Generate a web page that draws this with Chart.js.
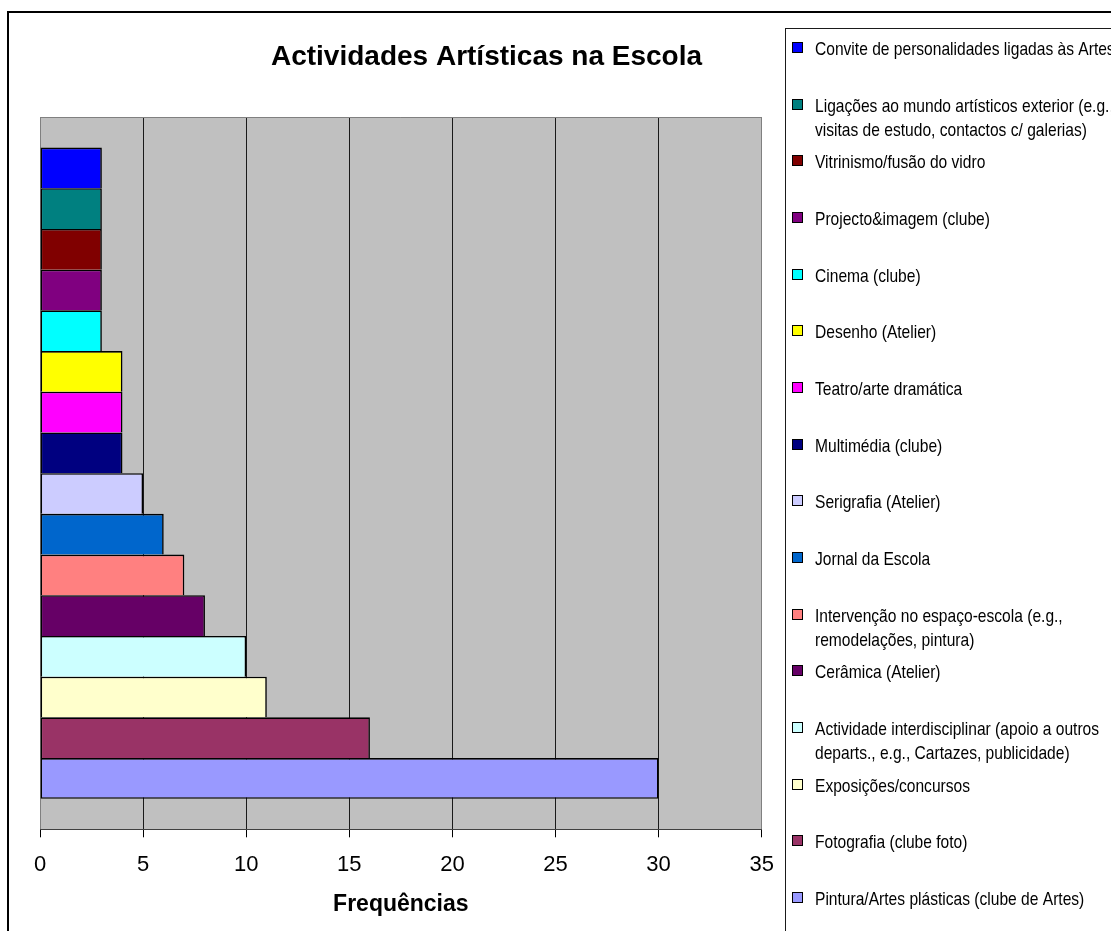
<!DOCTYPE html>
<html>
<head>
<meta charset="utf-8">
<script src="https://cdn.jsdelivr.net/npm/chart.js@4/dist/chart.umd.min.js"></script>
<style>
  html, body { margin: 0; padding: 0; background: #fff; }
  canvas { display: block; }
</style>
</head>
<body>
<canvas id="c" width="1111" height="931"></canvas>
<script>
// ---- data ----
const chartTitle = 'Actividades Artísticas na Escola';
const axisTitle = 'Frequências';
const categories = [
  'Convite de personalidades ligadas às Artes',
  'Ligações ao mundo artísticos exterior (e.g.,\nvisitas de estudo, contactos c/ galerias)',
  'Vitrinismo/fusão do vidro',
  'Projecto&imagem (clube)',
  'Cinema (clube)',
  'Desenho (Atelier)',
  'Teatro/arte dramática',
  'Multimédia (clube)',
  'Serigrafia (Atelier)',
  'Jornal da Escola',
  'Intervenção no espaço-escola (e.g.,\nremodelações, pintura)',
  'Cerâmica (Atelier)',
  'Actividade interdisciplinar (apoio a outros\ndeparts., e.g., Cartazes, publicidade)',
  'Exposições/concursos',
  'Fotografia (clube foto)',
  'Pintura/Artes plásticas (clube de Artes)'
];
const values = [3, 3, 3, 3, 3, 4, 4, 4, 5, 6, 7, 8, 10, 11, 16, 30];
const colors = [
  '#0000FF', '#008080', '#800000', '#800080', '#00FFFF', '#FFFF00', '#FF00FF', '#000080',
  '#CCCCFF', '#0066CC', '#FF8080', '#660066', '#CCFFFF', '#FFFFCC', '#993366', '#9999FF'
];
const xTickValues = [0, 5, 10, 15, 20, 25, 30, 35];

// ---- helpers ----
const FONT = '"Liberation Sans", Arial, sans-serif';
function narrowAvailable() {
  const c = document.createElement('canvas').getContext('2d');
  c.font = '40px "Liberation Sans Narrow", monospace';
  const a = c.measureText('abcdefghijklmnopqrst').width;
  c.font = '40px monospace';
  const b = c.measureText('abcdefghijklmnopqrst').width;
  return Math.abs(a - b) > 1;
}
const hasNarrow = narrowAvailable();

const decorPlugin = {
  id: 'decor',
  beforeDraw(chart) {
    const ctx = chart.ctx;
    const a = chart.chartArea;
    ctx.save();
    ctx.fillStyle = '#FFFFFF';
    ctx.fillRect(0, 0, chart.width, chart.height);
    ctx.fillStyle = '#C0C0C0';
    ctx.fillRect(a.left, a.top, a.right - a.left, a.bottom - a.top);
    ctx.restore();
  },
  beforeDatasetsDraw(chart) {
    const ctx = chart.ctx;
    const a = chart.chartArea;
    ctx.save();
    ctx.strokeStyle = '#808080';
    ctx.lineWidth = 1;
    ctx.beginPath();
    ctx.moveTo(a.left, Math.round(a.top) + 0.5);
    ctx.lineTo(a.right, Math.round(a.top) + 0.5);
    ctx.stroke();
    ctx.restore();
  },
  afterDraw(chart) {
    const ctx = chart.ctx;
    ctx.save();
    // outer chart border
    ctx.strokeStyle = '#000';
    ctx.lineWidth = 2;
    ctx.strokeRect(8, 12, chart.width + 20, chart.height + 20);
    // title
    ctx.fillStyle = '#000';
    ctx.font = 'bold 28px ' + FONT;
    ctx.textAlign = 'center';
    ctx.textBaseline = 'alphabetic';
    ctx.fillText(chartTitle, 486.5, 65);
    // legend box
    ctx.strokeStyle = '#1a1a1a';
    ctx.lineWidth = 1;
    ctx.strokeRect(785.5, 28.5, chart.width, chart.height);
    // legend entries
    const step = 56.67;
    ctx.textAlign = 'left';
    for (let i = 0; i < categories.length; i++) {
      const cy = Math.round(47 + i * step);
      ctx.fillStyle = colors[i];
      ctx.fillRect(792, cy - 5, 11, 11);
      ctx.strokeStyle = '#000';
      ctx.lineWidth = 1;
      ctx.strokeRect(792.5, cy - 4.5, 10, 10);
      const lines = categories[i].split('\n');
      ctx.fillStyle = '#000';
      lines.forEach((ln, k) => {
        const by = cy + 7.5 + k * 24;
        if (hasNarrow) {
          ctx.font = '19px "Liberation Sans Narrow", "Arial Narrow"';
          ctx.fillText(ln, 815, by);
        } else {
          ctx.save();
          ctx.font = '19px ' + FONT;
          ctx.translate(815, by);
          ctx.scale(0.82, 1);
          ctx.fillText(ln, 0, 0);
          ctx.restore();
        }
      });
    }
    ctx.restore();
  }
};

const datasets = categories.map((c, i) => ({
  label: c.replace('\n', ' '),
  data: [values[i]],
  backgroundColor: colors[i],
  borderColor: '#000000',
  borderWidth: { top: 1.6, left: 1.6, right: 1.6, bottom: i === categories.length - 1 ? 1.6 : 0 },
  borderSkipped: false,
  categoryPercentage: categories.length / (categories.length + 1.5),
  barPercentage: 1
}));

new Chart(document.getElementById('c'), {
  type: 'bar',
  data: { labels: [''], datasets },
  options: {
    indexAxis: 'y',
    responsive: false,
    animation: false,
    devicePixelRatio: 1,
    layout: { padding: { left: 40, top: 117, right: 1111 - 761.7, bottom: 0 } },
    plugins: {
      legend: { display: false },
      tooltip: { enabled: false },
      title: { display: false }
    },
    scales: {
      y: { display: false },
      x: {
        type: 'linear',
        min: xTickValues[0],
        max: xTickValues[xTickValues.length - 1],
        afterBuildTicks(scale) { scale.ticks = xTickValues.map(v => ({ value: v })); },
        afterFit(scale) { scale.height = 931 - 829.3; },
        grid: {
          color: (ctx) => (ctx.tick && (ctx.tick.value === xTickValues[0] || ctx.tick.value === xTickValues[xTickValues.length - 1])) ? '#808080' : '#1a1a1a',
          lineWidth: 1,
          tickLength: 8,
          tickColor: '#000',
          drawTicks: true
        },
        border: { display: true, color: '#404040', width: 1 },
        ticks: {
          color: '#000',
          font: { family: FONT, size: 22 },
          padding: 14,
          maxRotation: 0,
          autoSkip: false
        },
        title: {
          display: true,
          text: axisTitle,
          color: '#000',
          font: { family: FONT, size: 23, weight: 'bold' },
          padding: { top: 0, bottom: 13 }
        }
      }
    }
  },
  plugins: [decorPlugin]
});
</script>
</body>
</html>
